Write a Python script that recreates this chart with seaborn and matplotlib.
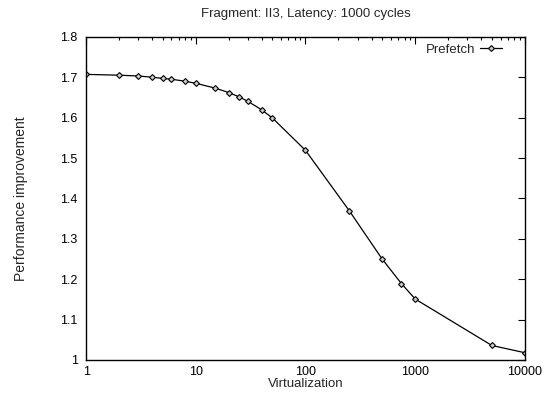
import pandas as pd
import matplotlib
matplotlib.use('Agg')
import matplotlib.pyplot as plt
import seaborn as sns
from matplotlib.ticker import LogLocator, NullFormatter, FixedLocator, FixedFormatter

# Dados
virtualization = [1, 2, 3, 4, 5, 6, 8, 10, 15, 20, 25, 30, 40, 50,
                  100, 250, 500, 750, 1000, 5000, 10000]
prefetch = [1.707, 1.705, 1.703, 1.700, 1.697, 1.695, 1.690, 1.685, 1.673,
            1.662, 1.651, 1.640, 1.619, 1.599, 1.519, 1.370, 1.250, 1.189,
            1.151, 1.036, 1.018]
x_ticks = [1, 10, 100, 1000, 10000]
y_ticks = [1, 1.1, 1.2, 1.3, 1.4, 1.5, 1.6, 1.7, 1.8]

df = pd.DataFrame({'Virtualization': virtualization, 'Prefetch': prefetch})

sns.set_style("white")
plt.rcParams['font.family'] = ['Liberation Sans', 'DejaVu Sans']

fig = plt.figure(figsize=(5.45, 3.98), dpi=100)
ax = fig.add_axes([0.158, 0.0955, 0.805, 0.812])

sns.lineplot(x='Virtualization', y='Prefetch', data=df, ax=ax, color='black',
             linewidth=0.9, marker='D', markersize=3, markerfacecolor='#cccccc',
             markeredgecolor='black', markeredgewidth=0.8, label='Prefetch')

ax.set_xscale('log')
ax.set_xlim(1, 10000)
ax.set_ylim(1, 1.8)
ax.xaxis.set_major_locator(FixedLocator(x_ticks))
ax.xaxis.set_major_formatter(FixedFormatter([str(t) for t in x_ticks]))
ax.xaxis.set_minor_locator(LogLocator(base=10, subs=range(2, 10)))
ax.xaxis.set_minor_formatter(NullFormatter())
ax.set_yticks(y_ticks)
ax.set_yticklabels(['1' if t == 1 else f'{t:.1f}' for t in y_ticks])

ax.tick_params(which='both', direction='in', top=True, right=True,
               labelsize=9, colors='black')
ax.tick_params(axis='y', pad=6)
ax.tick_params(axis='x', pad=4)
ax.tick_params(which='major', length=5, width=0.8)
ax.tick_params(which='minor', length=2.5, width=0.8)
for s in ax.spines.values():
    s.set_color('black')
    s.set_linewidth(1)

ax.set_xlabel('Virtualization', fontsize=9.5, labelpad=0.5)
ax.set_ylabel('Performance improvement', fontsize=10, labelpad=23)
ax.set_title('Fragment: II3, Latency: 1000 cycles', fontsize=9.5, pad=14)

ax.legend(loc='upper right', frameon=False, fontsize=9.5, markerfirst=False,
          handlelength=1.7, handletextpad=0.3, borderpad=0, borderaxespad=0,
          bbox_to_anchor=(0.948, 0.98))

fig.savefig('out.png', dpi=100)
